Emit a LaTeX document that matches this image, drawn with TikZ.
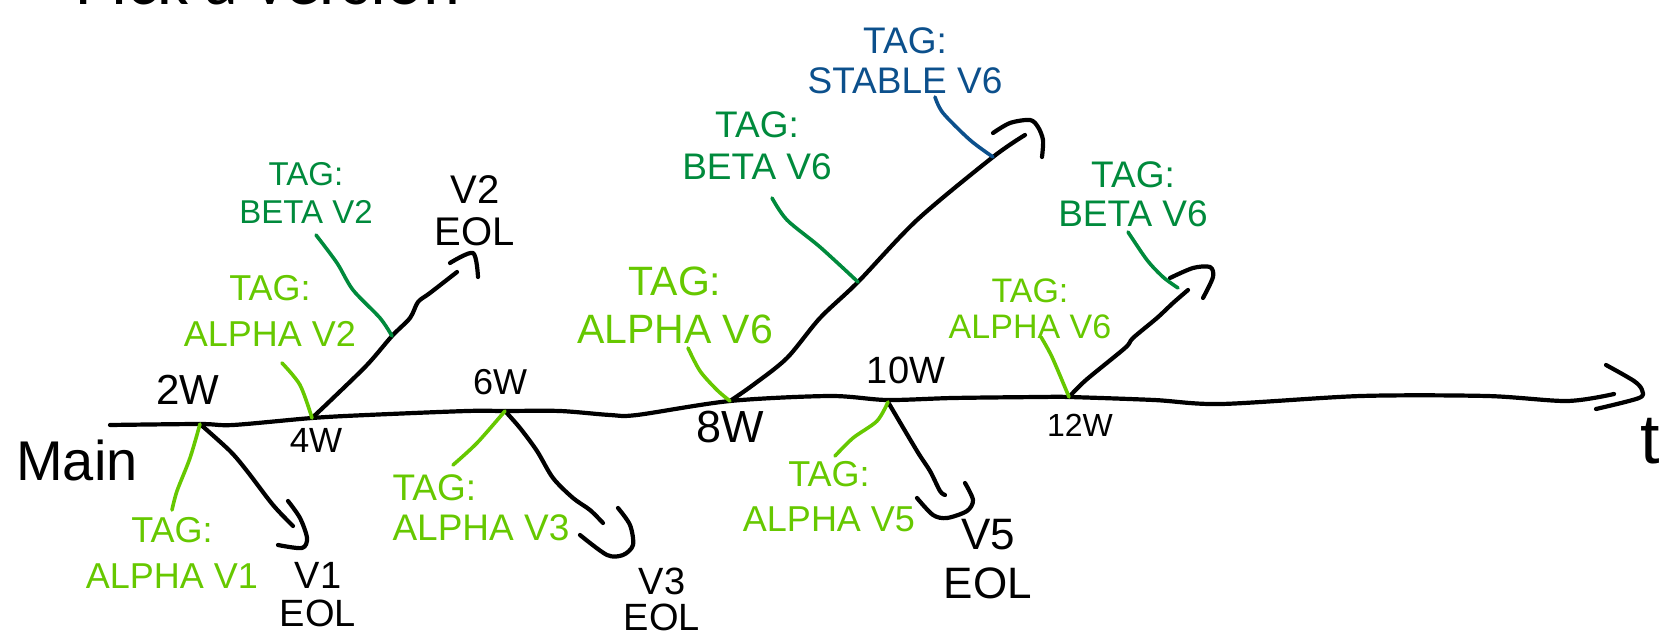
\documentclass[tikz,border=0pt]{standalone}
\usepackage{fontspec}
\setmainfont{Liberation Sans}
\newfontfamily\titlefont{Carlito}
\definecolor{lgreen}{RGB}{102,200,0}
\definecolor{dgreen}{RGB}{0,138,60}
\definecolor{tagblue}{RGB}{12,80,140}
\begin{document}
\begin{tikzpicture}[x=1pt,y=-1pt,
  blk/.style={draw=black,line width=4.2pt,line cap=round,line join=round},
  lg/.style={draw=lgreen,line width=3.6pt,line cap=round,line join=round},
  dg/.style={draw=dgreen,line width=3.6pt,line cap=round,line join=round},
  bl/.style={draw=tagblue,line width=3.6pt,line cap=round,line join=round},
  lab/.style={inner sep=0pt,align=center},
  sm/.style={smooth,tension=0.5}]
\useasboundingbox (0,0) rectangle (1674,636);

% title (cut off at the top)
\node[anchor=base west,inner sep=0pt,font=\titlefont\fontsize{70}{70}\selectfont] (title) at (75,5) {Pick a version};

% junctions and branch points
\coordinate (ms) at (110,425);
\coordinate (me) at (1614,394);
\coordinate (j2) at (200,424);
\coordinate (j4) at (312,418);
\coordinate (j6) at (505,411);
\coordinate (j8) at (730,401);
\coordinate (j10) at (888,402);
\coordinate (j12) at (1069,397);
\coordinate (e1) at (293,526);
\coordinate (e2) at (457,272);
\coordinate (k2) at (392,336);
\coordinate (e3) at (603,523);
\coordinate (k8) at (858,282);
\coordinate (k8s) at (993,157);
\coordinate (e8) at (1025,135);
\coordinate (e5) at (945,495);
\coordinate (e12) at (1188,290);

% main line
\draw[blk] plot[sm] coordinates {(ms) (j2) (233,425) (j4) (367,415) (467,411) (j6) (560,411) (610,415) (637,415) (j8) (830,396) (887,400) (953,398) (1040,397) (j12) (1154,400) (1221,404) (1361,396) (1487,396) (1567,401) (me)};
\draw[blk] plot[sm] coordinates {(1606,365) (1634,381) (1642,390) (1639,398) (1596,409)};

% branches
\draw[blk] plot[sm] coordinates {(j2) (230,451) (247,471) (273,505) (e1)};
\draw[blk] plot[sm] coordinates {(288,501) (300,518) (307,538) (302,548) (278,545)};

\draw[blk] plot[sm] coordinates {(j4) (330,401) (367,365) (k2) (410,318) (418,302) (430,293) (e2)};
\draw[blk] plot[sm] coordinates {(450,263) (473,253) (478,277)};

\draw[blk] plot[sm] coordinates {(j6) (520,428) (537,451) (553,478) (573,498) (590,510) (e3)};
\draw[blk] plot[sm] coordinates {(618,508) (630,525) (633,545) (623,555) (607,555) (580,535)};

\draw[blk] plot[sm] coordinates {(j8) (753,385) (787,358) (820,318) (k8) (917,220) (k8s) (e8)};
\draw[blk] plot[sm] coordinates {(993,133) (1010,123) (1030,120) (1038,127) (1043,140) (1042,157)};

\draw[blk] plot[sm] coordinates {(j10) (917,451) (930,471) (940,491) (e5)};
\draw[blk] plot[sm] coordinates {(965,483) (973,500) (967,511) (947,518) (933,515) (917,498)};

\draw[blk] plot[sm] coordinates {(j12) (1086,380) (1125,348) (1133,338) (1157,318) (1173,303) (e12)};
\draw[blk] plot[sm] coordinates {(1170,278) (1193,268) (1210,267) (1213,277) (1203,298)};

% black labels
\node[lab,font=\fontsize{56}{56}\selectfont] (main) at (77,460) {Main};
\node[lab,font=\fontsize{70}{70}\selectfont] (t) at (1650,441) {t};
\node[lab,font=\fontsize{42}{42}\selectfont] (w2) at (188,390) {2W};
\node[lab,font=\fontsize{35}{35}\selectfont] (w4) at (316,440) {4W};
\node[lab,font=\fontsize{36}{36}\selectfont] (w6) at (500,382) {6W};
\node[lab,font=\fontsize{45}{45}\selectfont] (w8) at (730,427) {8W};
\node[lab,font=\fontsize{38}{38}\selectfont] (w10) at (906,370) {10W};
\node[lab,font=\fontsize{32}{32}\selectfont] (w12) at (1080,425) {12W};
\node[lab,font=\fontsize{38}{38}\selectfont] (v1) at (318,595) {V1\\EOL};
\node[lab,font=\fontsize{40}{42}\selectfont] (v2) at (475,211) {V2\\EOL};
\node[lab,font=\fontsize{38}{36}\selectfont] (v3) at (662,599) {V3\\EOL};
\node[lab,font=\fontsize{44}{49}\selectfont] (v5) at (988,559) {V5\\EOL};

% tag labels
\node[lab,text=lgreen,font=\fontsize{36}{46}\selectfont] (a1) at (172,553) {TAG:\\ALPHA V1};
\node[lab,text=lgreen,font=\fontsize{36}{46}\selectfont] (a2) at (270,311) {TAG:\\ALPHA V2};
\node[lab,text=dgreen,font=\fontsize{33}{38}\selectfont] (b2) at (306,193) {TAG:\\BETA V2};
\node[lab,text=lgreen,align=left,font=\fontsize{37}{40}\selectfont] (a3) at (481,508) {TAG:\\ALPHA V3};
\node[lab,text=tagblue,font=\fontsize{37}{40}\selectfont] (s6) at (905,61) {TAG:\\STABLE V6};
\node[lab,text=dgreen,font=\fontsize{37}{42}\selectfont] (b6a) at (757,146) {TAG:\\BETA V6};
\node[lab,text=lgreen,font=\fontsize{41}{48}\selectfont] (a6a) at (675,305) {TAG:\\ALPHA V6};
\node[lab,text=lgreen,font=\fontsize{36}{45}\selectfont] (a5) at (829,497) {TAG:\\ALPHA V5};
\node[lab,text=dgreen,font=\fontsize{37}{39}\selectfont] (b6b) at (1133,194) {TAG:\\BETA V6};
\node[lab,text=lgreen,font=\fontsize{34}{36}\selectfont] (a6b) at (1030,309) {TAG:\\ALPHA V6};

% leader ends at the labels
\coordinate (a1t) at (172,510);
\coordinate (a2t) at (282,363);
\coordinate (b2t) at (316,235);
\coordinate (a3t) at (453,465);
\coordinate (b6at) at (772,198);
\coordinate (s6t) at (935,97);
\coordinate (a6at) at (688,348);
\coordinate (a5t) at (835,456);
\coordinate (b6bt) at (1128,232);
\coordinate (k12) at (1178,288);
\coordinate (a6bt) at (1041,337);

% leaders
\draw[lg] plot[sm] coordinates {(j2) (190,458) (177,491) (a1t)};
\draw[lg] plot[sm] coordinates {(a2t) (300,385) (j4)};
\draw[dg] plot[sm] coordinates {(b2t) (337,263) (353,290) (380,318) (k2)};
\draw[lg] plot[sm] coordinates {(j6) (477,443) (a3t)};
\draw[dg] plot[sm] coordinates {(b6at) (787,220) (820,247) (k8)};
\draw[bl] plot[sm] coordinates {(s6t) (943,113) (970,140) (k8s)};
\draw[lg] plot[sm] coordinates {(a6at) (700,371) (717,390) (j8)};
\draw[lg] plot[sm] coordinates {(j10) (877,421) (853,438) (a5t)};
\draw[dg] plot[sm] coordinates {(b6bt) (1147,260) (1163,277) (k12)};
\draw[lg] plot[sm] coordinates {(a6bt) (1052,357) (j12)};
\end{tikzpicture}
\end{document}
